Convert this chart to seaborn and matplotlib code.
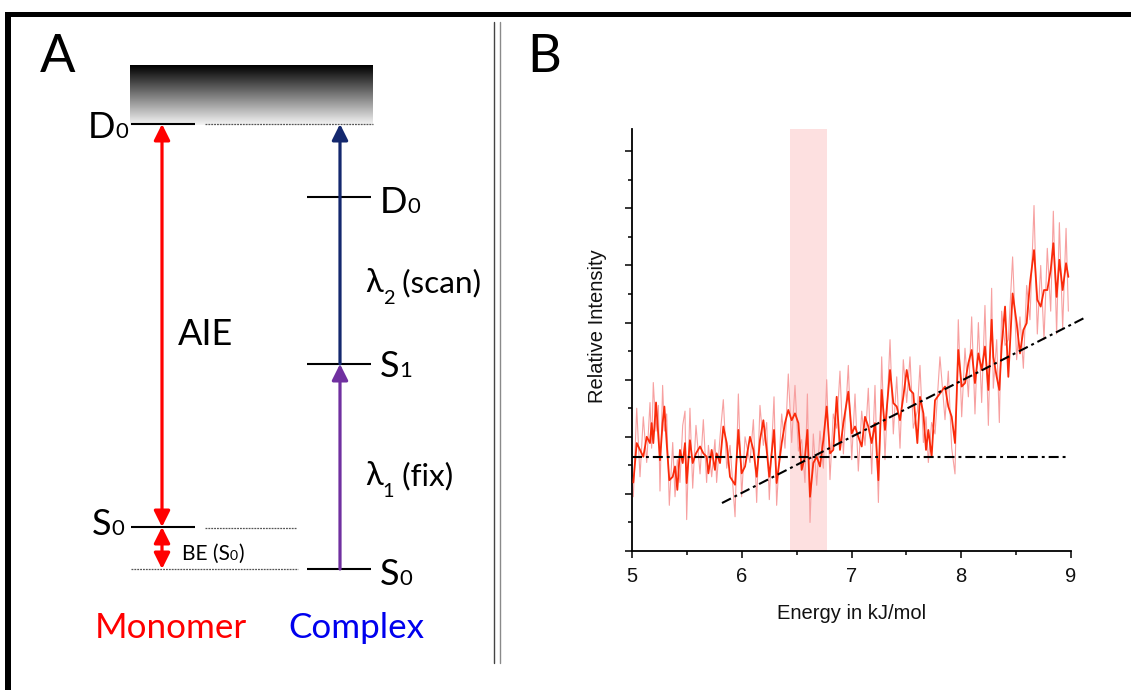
import numpy as np
import matplotlib
matplotlib.use("Agg")
import matplotlib.pyplot as plt
import seaborn as sns
from matplotlib import font_manager as fm
from matplotlib.patches import Rectangle

# ---------------- data ----------------
# Panel A: energy levels (arbitrary energy units, complex S0 = 0)
monomer_levels = {"D0": 4.45, "S0": 0.42}
complex_levels = {"D0": 3.72, "S1": 2.05, "S0": 0.00}
continuum_top = 5.04

# Panel B: spectrum (energy in kJ/mol, relative intensity in tick units)
energy = [5.012, 5.043, 5.073, 5.103, 5.134, 5.164, 5.179, 5.194, 5.219, 5.240,
          5.255, 5.279, 5.295, 5.316, 5.340, 5.371, 5.392, 5.413, 5.437, 5.462,
          5.483, 5.498, 5.528, 5.553, 5.583, 5.620, 5.650, 5.680, 5.696, 5.726,
          5.756, 5.771, 5.802, 5.832, 5.863, 5.893, 5.939, 5.969, 5.999, 6.030,
          6.075, 6.106, 6.136, 6.166, 6.197, 6.227, 6.251, 6.294, 6.318, 6.364,
          6.394, 6.424, 6.455, 6.485, 6.516, 6.546, 6.576, 6.598, 6.622, 6.652,
          6.683, 6.713, 6.743, 6.774, 6.804, 6.834, 6.865, 6.895, 6.926, 6.971,
          7.002, 7.032, 7.062, 7.093, 7.123, 7.153, 7.184, 7.214, 7.245, 7.275,
          7.305, 7.351, 7.381, 7.412, 7.442, 7.472, 7.503, 7.533, 7.563, 7.600,
          7.624, 7.655, 7.679, 7.700, 7.730, 7.761, 7.806, 7.852, 7.882, 7.913,
          7.943, 7.973, 8.004, 8.034, 8.065, 8.095, 8.125, 8.156, 8.186, 8.216,
          8.247, 8.277, 8.292, 8.323, 8.347, 8.368, 8.399, 8.429, 8.468, 8.505,
          8.535, 8.566, 8.596, 8.626, 8.663, 8.693, 8.724, 8.754, 8.784, 8.815,
          8.839, 8.869, 8.894, 8.924, 8.955, 8.976]
intensity_smooth = [1.20, 1.89, 1.77, 1.65, 2.00, 1.89, 2.24, 1.89, 2.60, 2.00,
                    1.59, 2.24, 2.53, 1.89, 1.24, 1.30, 1.48, 1.07, 1.77, 1.54,
                    1.89, 1.19, 1.94, 1.54, 1.71, 1.83, 1.71, 1.65, 1.36, 1.77,
                    1.42, 1.71, 1.54, 2.18, 1.89, 1.30, 1.16, 2.12, 1.36, 1.48,
                    2.00, 1.77, 1.30, 1.94, 2.29, 1.77, 1.30, 2.12, 1.19, 1.89,
                    2.24, 2.47, 2.29, 2.41, 2.24, 1.42, 1.65, 2.12, 0.95, 1.54,
                    1.65, 1.48, 1.94, 2.53, 1.71, 1.77, 2.70, 1.77, 2.24, 2.79,
                    2.06, 2.18, 2.00, 1.83, 2.35, 2.18, 1.89, 2.24, 1.24, 2.82,
                    2.12, 3.17, 2.59, 2.53, 2.29, 2.70, 3.17, 2.82, 2.76, 1.89,
                    2.70, 2.41, 1.77, 2.12, 1.65, 2.64, 2.76, 2.88, 2.53, 2.35,
                    1.89, 3.52, 2.88, 2.94, 3.29, 3.52, 2.94, 3.46, 3.17, 3.58,
                    2.82, 4.05, 3.40, 3.05, 2.82, 3.58, 4.28, 3.05, 4.51, 3.99,
                    3.46, 3.87, 3.99, 4.69, 5.27, 4.40, 4.28, 4.57, 4.57, 4.92,
                    5.39, 4.45, 5.10, 4.57, 5.04, 4.80]
intensity_raw = [0.95, 2.50, 1.30, 2.35, 1.55, 2.60, 1.80, 2.95, 2.10, 2.55,
                 1.05, 2.90, 2.10, 2.40, 0.80, 1.90, 0.95, 1.60, 1.20, 2.20,
                 2.45, 0.55, 2.50, 1.10, 2.20, 1.35, 2.30, 1.20, 1.85, 1.30,
                 1.95, 1.20, 2.00, 2.65, 1.45, 1.85, 0.60, 2.75, 0.95, 2.00,
                 1.55, 2.30, 0.85, 2.55, 1.85, 2.25, 0.90, 2.70, 0.80, 2.40,
                 1.80, 3.10, 1.90, 2.90, 1.75, 1.95, 1.20, 2.75, 0.50, 2.05,
                 1.15, 2.10, 1.45, 3.00, 1.25, 2.40, 2.15, 3.15, 1.70, 3.25,
                 1.60, 2.75, 1.40, 2.45, 1.85, 2.85, 1.35, 2.90, 0.85, 3.40,
                 1.60, 3.70, 2.05, 3.05, 1.80, 3.35, 2.60, 3.40, 2.15, 2.45,
                 3.25, 1.90, 2.35, 1.55, 2.25, 2.05, 3.40, 2.30, 3.15, 1.80,
                 1.35, 4.05, 2.35, 3.55, 2.70, 4.10, 2.40, 4.00, 2.60, 4.30,
                 2.20, 4.60, 2.85, 3.70, 2.25, 4.20, 3.60, 3.70, 5.15, 3.35,
                 4.10, 3.20, 4.65, 4.05, 6.05, 3.80, 5.00, 3.70, 5.30, 4.20,
                 5.95, 3.80, 5.75, 3.90, 5.65, 4.20]
baseline_energy = [5.0, 8.95]
baseline_intensity = [1.65, 1.65]
onset_energy = [5.82, 9.12]
onset_intensity = [0.84, 4.08]
highlight_band = [6.44, 6.78]
x_ticks = [5, 6, 7, 8, 9]
x_minor_ticks = [5.5, 6.5, 7.5, 8.5]
y_ticks = [0, 1, 2, 3, 4, 5, 6, 7]
y_minor_ticks = [0.5, 1.5, 2.5, 3.5, 4.5, 5.5, 6.5]

# ---------------- style ----------------
sns.set_theme(style="white")
plt.rcParams["font.family"] = ["Liberation Sans", "DejaVu Sans"]

names = {f.name for f in fm.fontManager.ttflist}
if "Liberation Sans Narrow" in names:
    DIAG = "Liberation Sans Narrow"
    K = 1.0
else:
    DIAG = "Lato"
    K = 0.84
DIAG_FAM = [DIAG, "DejaVu Sans"]

W, H = 1131, 690
fig = plt.figure(figsize=(W / 100, H / 100), dpi=100)
renderer = fig.canvas.get_renderer()

# full-figure layout axes in pixel coordinates (panel A + frame)
ax = fig.add_axes([0, 0, 1, 1])
ax.set_xlim(0, W)
ax.set_ylim(H, 0)
ax.axis("off")

Y_S0 = 569.0
SCALE = 100.0


def ey(e):
    return Y_S0 - SCALE * e


# outer frame (top and left) and panel divider
ax.add_patch(Rectangle((5, 11.5), W - 5, 5.5, color="black", lw=0))
ax.add_patch(Rectangle((5, 11.5), 6, H - 11.5, color="black", lw=0))
ax.plot([493.5, 493.5], [22, 663], color="#444444", lw=1.0)
ax.plot([500, 500], [22, 663], color="#8a8a8a", lw=1.0)

# gradient continuum block
grad = np.linspace(0.0, 0.96, 200).reshape(-1, 1)
ax.imshow(grad, cmap="gray", vmin=0, vmax=1, aspect="auto",
          extent=[130, 373, ey(monomer_levels["D0"]) + 1, ey(continuum_top)], zorder=1)
ax.set_xlim(0, W)
ax.set_ylim(H, 0)

X_MON = (131, 195)
X_CPX = (307, 371)
XA_MON = 162
XA_CPX = 340

# solid levels
for e in monomer_levels.values():
    ax.plot(X_MON, [ey(e)] * 2, color="black", lw=1.5, zorder=3, solid_capstyle="butt")
for e in complex_levels.values():
    ax.plot(X_CPX, [ey(e)] * 2, color="black", lw=1.5, zorder=3, solid_capstyle="butt")

# dotted reference levels
dot_kw = dict(color="#555555", lw=0.9, ls=(0, (1.5, 0.8)), zorder=3)
ax.plot([205, 373], [ey(monomer_levels["D0"])] * 2, **dot_kw)
ax.plot([205, 297], [ey(monomer_levels["S0"]) + 1] * 2, **dot_kw)
ax.plot([131, 298], [ey(complex_levels["S0"])] * 2, **dot_kw)

# arrows
def arrow(x, e0, e1, color, style):
    ax.annotate("", xy=(x, ey(e1)), xytext=(x, ey(e0)),
                arrowprops=dict(arrowstyle=style, color=color, lw=2.3,
                                mutation_scale=24, shrinkA=0, shrinkB=0),
                zorder=4)

arrow(XA_MON, monomer_levels["S0"], monomer_levels["D0"], "#ff0000", "<|-|>")
arrow(XA_MON, complex_levels["S0"], monomer_levels["S0"], "#ff0000", "<|-|>")
arrow(XA_CPX, complex_levels["S0"], complex_levels["S1"], "#7030a0", "-|>")
arrow(XA_CPX, complex_levels["S1"], monomer_levels["D0"], "#14286e", "-|>")


def compose(x, y, parts, color="black"):
    cur = x
    for s, size, dy in parts:
        t = ax.text(cur, y + dy, s, fontsize=size * K, family=DIAG_FAM, color=color,
                    ha="left", va="baseline", zorder=5)
        bb = t.get_window_extent(renderer)
        cur = ax.transData.inverted().transform((bb.x1, bb.y0))[0]


compose(88, ey(monomer_levels["D0"]) + 14, [("D", 31, 0), ("0", 19, 0)])
compose(92, ey(monomer_levels["S0"]) + 8, [("S", 31, 0), ("0", 19, 0)])
compose(380, ey(complex_levels["D0"]) + 16, [("D", 31, 0), ("0", 19, 0)])
compose(380, ey(complex_levels["S1"]) + 13, [("S", 31, 0), ("1", 19, 0)])
compose(380, ey(complex_levels["S0"]) + 16, [("S", 31, 0), ("0", 19, 0)])
compose(182, 560, [("BE (S", 18, 0), ("0", 12, 0), (")", 18, 0)])
compose(365, 292, [("λ", 28, 0), ("2", 17, 12), (" (scan)", 27, 0)])
compose(365, 485, [("λ", 28, 0), ("1", 17, 12), (" (fix)", 27, 0)])
compose(178, 345, [("AIE", 31, 0)])
compose(95, 638, [("Monomer", 30, 0)], color="#ff0000")
compose(288, 638, [("Complex", 30, 0)], color="#0000ee")
compose(40, 72, [("A", 45, 0)])
compose(527, 72, [("B", 45, 0)])

# ---------------- panel B ----------------
x0, x1, y0, y1 = 632, 1071, 129, 551
axb = fig.add_axes([x0 / W, 1 - y1 / H, (x1 - x0) / W, (y1 - y0) / H])
axb.patch.set_alpha(0)
axb.axvspan(*highlight_band, color="#fde0e0", lw=0, zorder=0)
sns.lineplot(x=energy, y=intensity_raw, ax=axb, color="#f7a0a0", lw=0.8,
             estimator=None, sort=False, zorder=2)
sns.lineplot(x=energy, y=intensity_smooth, ax=axb, color="#fa2a0a", lw=1.3,
             estimator=None, sort=False, zorder=3)
sns.lineplot(x=baseline_energy, y=baseline_intensity, ax=axb, color="black", lw=1.5,
             estimator=None, sort=False, zorder=4)
axb.lines[-1].set_dashes((4.8, 1.9, 1.4, 1.9))
sns.lineplot(x=onset_energy, y=onset_intensity, ax=axb, color="black", lw=1.5,
             estimator=None, sort=False, zorder=4)
axb.lines[-1].set_dashes((4.8, 1.9, 1.4, 1.9))
axb.lines[-1].set_clip_on(False)

axb.set_xlim(5, 9)
axb.set_ylim(0, 7.39)
axb.set_xticks(x_ticks)
axb.set_xticks(x_minor_ticks, minor=True)
axb.set_yticks(y_ticks)
axb.set_yticks(y_minor_ticks, minor=True)
axb.set_yticklabels([])
axb.set_xticklabels([str(v) for v in x_ticks])
for s in ["top", "right"]:
    axb.spines[s].set_visible(False)
for s in ["left", "bottom"]:
    axb.spines[s].set_color("black")
    axb.spines[s].set_linewidth(1.3)
axb.tick_params(axis="both", which="major", direction="out", length=5, width=1.1,
                color="black", labelsize=14.5, labelcolor="#111111", pad=6.5,
                bottom=True, left=True)
axb.tick_params(axis="both", which="minor", direction="out", length=3, width=1.1,
                color="black", bottom=True, left=True)
axb.set_xlabel("Energy in kJ/mol", fontsize=14.5, color="#111111")
axb.set_ylabel("Relative Intensity", fontsize=14.5, color="#111111")
axb.xaxis.set_label_coords(0.5, -0.125)
axb.yaxis.set_label_coords(-0.058, 0.533)
axb.grid(False)

fig.savefig("out.png", dpi=100)
